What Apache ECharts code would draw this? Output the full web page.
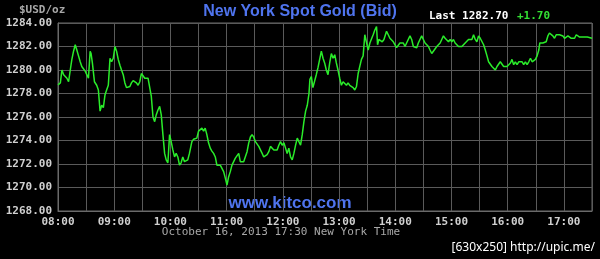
<!DOCTYPE html>
<html>
<head>
<meta charset="utf-8">
<script src="https://cdn.jsdelivr.net/npm/echarts@6/dist/echarts.min.js"></script>
<style>
html,body{margin:0;padding:0;background:#000;}
#c{width:600px;height:259px;}
</style>
</head>
<body>
<div id="c"></div>
<script>
// minutes after 08:00, price (USD/oz)
var seg1 = [[0,1278.74],[2.5,1278.9],[4.2,1280.0],[6,1279.6],[7.8,1279.7],[9.5,1279.3],[11.3,1279.0],[13.1,1280.0],[14.8,1280.9],[16.6,1281.6],[18.4,1282.15],[20.1,1281.7],[21.9,1281.2],[23.7,1280.7],[25.4,1280.3],[27.2,1280.2],[29,1279.9],[30.7,1280.0],[32.5,1279.3],[34.3,1281.6],[35.3,1281.4],[36.7,1280.6],[38.9,1279.0],[41.3,1278.7],[43.1,1278.3],[44.9,1276.5],[46.6,1277.0],[48.4,1276.8],[50.2,1277.9],[51.9,1278.3],[53.7,1278.7],[55.5,1281.0],[57.2,1280.7],[59,1281.0],[60.8,1282.0],[62.5,1281.6],[64.3,1280.9],[66.1,1280.4],[67.8,1280.0],[69.6,1279.6],[71.4,1278.9],[73.1,1278.5],[74.9,1278.5],[76.7,1278.6],[78.4,1278.9],[80.2,1279.1],[82,1279.0],[83.7,1278.9],[85.5,1278.7],[87.3,1279.0],[89,1279.7],[90.8,1279.6],[92.6,1279.3],[94.3,1279.2],[96.1,1279.3],[97.9,1279.2],[99.6,1277.75],[101.4,1276.0],[103.2,1275.6],[104.9,1276.2],[106.7,1276.6],[108.5,1276.9],[110.2,1276.2],[112,1274.5],[113.8,1272.9],[115.5,1272.35],[117.3,1272.1],[119.1,1274.5],[120.8,1273.9],[122.6,1273.2],[124.4,1272.6],[126.1,1272.9],[127.9,1272.6],[129.7,1271.9],[131.4,1272.1],[133.2,1272.6],[135,1272.2],[136.7,1272.2],[138.5,1272.35],[140.3,1272.9]];
var seg2 = [[142.9,1273.9],[144.6,1274.1],[146.4,1274.1],[148.2,1274.2],[150,1274.8],[151.8,1274.9],[153.6,1275.05],[155.4,1274.8],[157.1,1275.05],[158.9,1274.5],[160.7,1273.8],[162.5,1273.35],[164.3,1273.1],[166.1,1272.9],[167.9,1272.6],[169.6,1271.9],[171.4,1271.8],[173.2,1271.9],[175,1271.8],[176.8,1271.35],[178.6,1270.8],[180.4,1270.2],[182.1,1270.9],[183.9,1271.35],[185.7,1271.9],[187.5,1272.2],[189.3,1272.5],[191.1,1272.6],[192.9,1272.9],[194.6,1272.2],[196.4,1272.2],[198.2,1272.2],[200,1272.35],[201.8,1273.05],[203.6,1273.8],[205.4,1274.3],[207.1,1274.5],[208.9,1274.3],[210.7,1273.9],[212.5,1273.8],[214.3,1273.5],[216.1,1273.2],[217.9,1272.9],[219.6,1272.6],[221.4,1272.6],[223.2,1272.8],[225,1273.05],[226.8,1273.5],[228.6,1273.35],[230.4,1273.2],[232.1,1273.05],[233.9,1273.2],[235.7,1273.6],[237.5,1273.9],[239.3,1273.6],[241.1,1273.8],[242.9,1273.35],[244.6,1272.9],[246.4,1273.35],[248.2,1272.6],[250,1272.35],[251.8,1272.9],[253.6,1273.6],[255.4,1274.2],[257.1,1274.3],[258.9,1273.6],[260.7,1274.5],[262.5,1275.6],[264.3,1276.5],[266.1,1277.0],[267.9,1278.0],[268.9,1279.2],[270.4,1279.45],[272.1,1278.5],[273.9,1278.6],[275.7,1279.6],[277.5,1280.2],[279.3,1280.9],[281.1,1281.6],[282.9,1281.0]];
var seg3 = [[284.6,1280.6],[286.4,1280.0],[288.2,1279.6],[290,1280.6],[291.8,1281.4],[293.6,1281.0],[295.4,1281.3],[297.1,1280.6],[298.9,1280.0],[300.7,1279.3],[302.5,1278.7],[304.3,1279.0],[306.1,1278.9],[307.9,1278.7],[309.6,1278.9],[311.4,1278.7],[313.2,1278.7],[315,1278.5],[316.8,1278.3],[318.6,1278.6],[320.4,1279.7],[322.1,1280.3],[323.9,1280.9],[325.7,1281.2],[327.5,1283.0],[329.3,1282.9],[331.1,1281.7],[332.9,1282.3],[334.6,1282.15],[336.4,1283.0],[338.2,1283.4],[340,1283.7],[341.1,1282.15],[342.5,1282.6],[344.3,1282.6],[346.1,1282.4],[347.9,1282.6],[349.6,1282.7],[350.7,1283.3],[352.5,1283.15],[354.3,1282.7],[356.1,1282.7],[357.9,1282.4],[359.6,1282.3],[361.4,1281.9],[363.2,1282.0],[365,1282.3],[366.8,1282.15],[368.6,1282.3],[370.4,1282.0],[372.1,1282.3],[373.9,1282.4],[375.7,1282.9],[377.5,1282.6],[379.3,1282.0],[381.1,1281.9],[382.9,1281.9],[384.6,1282.3],[386.4,1282.4],[388.2,1282.9],[390,1282.6],[391.8,1282.3],[393.6,1282.15],[395.4,1282.0],[397.1,1281.7],[398.9,1281.4],[400.7,1281.6],[402.5,1281.7],[404.3,1282.0],[406.1,1282.15],[407.9,1282.3],[409.6,1282.6],[411.4,1282.9],[413.2,1282.7],[415,1282.6],[416.8,1282.4],[418.6,1282.6],[420.4,1282.4],[422.1,1282.6],[423.9,1282.3],[425.7,1282.4],[427.5,1282.0]];
var seg4 = [[429.3,1282.15],[431.1,1282.0],[432.9,1282.15],[434.6,1282.3],[436.4,1282.4],[438.2,1282.6],[440,1282.7],[441.8,1282.6],[443.6,1283.0],[445.4,1282.6],[447.1,1282.4],[448.9,1282.9],[450.7,1282.7],[452.5,1282.6],[454.3,1282.15],[456.1,1281.7],[457.9,1281.2],[459.6,1280.7],[461.4,1280.6],[463.2,1280.3],[465,1280.2],[466.8,1280.0],[468.6,1280.3],[470.4,1280.3],[472.1,1280.7],[473.9,1280.7],[475.7,1280.3],[477.5,1280.3],[479.3,1280.3],[481.1,1280.45],[482.9,1280.6],[484.6,1280.9],[486.4,1280.45],[488.2,1280.7],[490,1280.45],[491.8,1280.7],[493.6,1280.6],[495.4,1280.7],[497.1,1280.45],[498.9,1280.7],[500.7,1280.45],[502.5,1280.7],[504.3,1281.0],[506.1,1280.7],[507.9,1280.7],[509.6,1280.9],[511.4,1281.2],[513.2,1281.7],[514.3,1282.3],[515.7,1282.4],[517.5,1282.3],[519.3,1282.4],[521.1,1282.4],[522.9,1282.9],[524.6,1283.15],[526.4,1283.0],[528.2,1282.9],[530,1282.7],[531.8,1283.0],[533.6,1283.15],[535.4,1283.0],[537.1,1282.9],[538.9,1282.9],[540.7,1282.7],[542.5,1282.6],[544.3,1282.9],[546.1,1282.9],[547.9,1282.7],[549.6,1282.6],[551.4,1282.7],[553.2,1283.0],[555,1282.9],[556.8,1282.8],[559.6,1282.8],[565,1282.8],[570,1282.7]];
var hourLabels = ['08:00','09:00','10:00','11:00','12:00','13:00','14:00','15:00','16:00','17:00'];
var yMin = 1268, yMax = 1284, yStep = 2;
var lastPrice = '1282.70', change = '+1.70';

var data = seg1.concat(seg2, seg3, seg4);
var mono = '"DejaVu Sans Mono", "Liberation Mono", monospace';

var chart = echarts.init(document.getElementById('c'), null, {renderer:'canvas'});
chart.setOption({
  backgroundColor: '#000',
  animation: false,
  grid: {left: 58, right: 8, top: 23, bottom: 48, show: true, borderColor: '#6a6a6a', borderWidth: 1},
  xAxis: {
    type: 'value', min: 0, max: 570, interval: 30,
    axisLine: {show: true, lineStyle: {color: '#6a6a6a'}},
    axisTick: {show: false},
    splitLine: {show: true, lineStyle: {color: '#5a5a5a', width: 1}},
    axisLabel: {
      color: '#d0d0d0', fontFamily: mono, fontSize: 11, fontWeight: 'bold', margin: 6,
      formatter: function (v) { return (v % 60 === 0) ? (hourLabels[v / 60] || '') : ''; }
    }
  },
  yAxis: {
    type: 'value', min: yMin, max: yMax, interval: yStep,
    axisLine: {show: true, lineStyle: {color: '#6a6a6a'}},
    axisTick: {show: false},
    splitLine: {show: true, lineStyle: {color: '#5a5a5a', width: 1}},
    axisLabel: {
      color: '#d0d0d0', fontFamily: mono, fontSize: 11, fontWeight: 'bold', margin: 6,
      formatter: function (v) { return v.toFixed(2); }
    }
  },
  series: [{
    type: 'line', data: data, showSymbol: false, symbol: 'none',
    lineStyle: {color: '#2aec2a', width: 1.5}
  }],
  graphic: [
    {type: 'text', left: 19, top: 5, style: {text: '$USD/oz', fill: '#a8a8a8', font: 'bold 11px ' + mono}},
    {type: 'text', x: 300, y: 12, style: {text: 'New York Spot Gold (Bid)', fill: '#4f74ee', font: 'bold 16px "Liberation Sans", Arial, sans-serif', align: 'center', verticalAlign: 'middle'}},
    {type: 'text', x: 429, y: 16, style: {text: 'Last ' + lastPrice, fill: '#ffffff', font: 'bold 11px ' + mono, verticalAlign: 'middle'}},
    {type: 'text', x: 517, y: 16, style: {text: change, fill: '#33e033', font: 'bold 11px ' + mono, verticalAlign: 'middle'}},
    {type: 'text', x: 290, y: 203, style: {text: 'www.kitco.com', fill: '#4f74ee', font: 'bold 17px "Liberation Sans", Arial, sans-serif', align: 'center', verticalAlign: 'middle'}},
    {type: 'text', x: 281, y: 232, style: {text: 'October 16, 2013 17:30 New York Time', fill: '#a8a8a8', font: '11px ' + mono, align: 'center', verticalAlign: 'middle'}},
    {type: 'text', x: 595, y: 248, style: {text: '[630x250] http://upic.me/', fill: '#ffffff', font: '12px "Noto Sans", sans-serif', align: 'right', verticalAlign: 'middle'}}
  ]
});
</script>
</body>
</html>
